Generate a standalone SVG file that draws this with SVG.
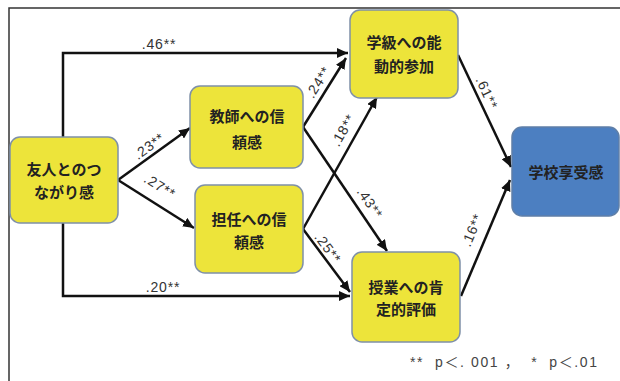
<svg xmlns="http://www.w3.org/2000/svg" width="620" height="381" viewBox="0 0 620 381">
<defs>
<marker id="arr" markerUnits="userSpaceOnUse" markerWidth="12" markerHeight="10" refX="11" refY="5" orient="auto">
<path d="M0,0 L11,5 L0,10 Z" fill="#111"/>
</marker>
<style>
.node{fill:#ede43a;stroke:#7f90a8;stroke-width:1.5}
.blue{fill:#4c7fc1;stroke:#5f7fa8;stroke-width:1.5}
.nt{font-family:"Noto Sans CJK JP","Noto Sans CJK SC",sans-serif;font-weight:bold;font-size:15px;fill:#222;text-anchor:middle}
.edge{fill:none;stroke:#111;stroke-width:2.5;marker-end:url(#arr)}
.lb{font-family:"Liberation Sans",Arial,sans-serif;font-size:14px;letter-spacing:0.8px;fill:#333;text-anchor:middle}
.fn{font-family:"Liberation Sans","Noto Sans CJK JP",sans-serif;font-size:14px;fill:#444}
</style>
</defs>
<rect width="620" height="381" fill="#fff"/>
<path d="M9,381 V8 H620" fill="none" stroke="#333" stroke-width="1.5"/>
<g id="connectors">
<path class="edge" d="M63,137 V53 H348"/>
<path class="edge" d="M63,223 V296 H350"/>
<path class="edge" d="M118,180 L190,128"/>
<path class="edge" d="M118,180 L194,228"/>
<path class="edge" d="M303,127 L346,58"/>
<path class="edge" d="M303,127 L387,251"/>
<path class="edge" d="M303,229 L377,97"/>
<path class="edge" d="M303,229 L350,292"/>
<path class="edge" d="M458,55 L511,167"/>
<path class="edge" d="M461,296 L510,180"/>
<text class="lb" x="159" y="49">.46**</text>
<text class="lb" x="163" y="292">.20**</text>
<text class="lb" x="149" y="151" transform="rotate(-36 149 146)">.23**</text>
<text class="lb" x="160" y="191" transform="rotate(32 160 186)">.27**</text>
<text class="lb" x="318" y="87" transform="rotate(-58 318 82)">.24**</text>
<text class="lb" x="343" y="135" transform="rotate(-60 343 130)">.18**</text>
<text class="lb" x="370" y="208" transform="rotate(56 370 203)">.43**</text>
<text class="lb" x="328" y="253" transform="rotate(53 328 248)">.25**</text>
<text class="lb" x="487" y="98" transform="rotate(65 487 93)">.61**</text>
<text class="lb" x="472" y="235" transform="rotate(-67 472 230)">.16**</text>
</g>
<g id="n1"><rect class="node" x="10" y="137" width="108" height="86" rx="10"/>
<text class="nt" x="64" y="175">友人とのつ</text><text class="nt" x="64" y="198">ながり感</text></g>
<g id="n2"><rect class="node" x="190" y="86" width="113" height="82" rx="10"/>
<text class="nt" x="247" y="122">教師への信</text><text class="nt" x="247" y="148">頼感</text></g>
<g id="n3"><rect class="node" x="195" y="185" width="108" height="88" rx="10"/>
<text class="nt" x="249" y="225">担任への信</text><text class="nt" x="249" y="248">頼感</text></g>
<g id="n4"><rect class="node" x="350" y="10" width="108" height="88" rx="10"/>
<text class="nt" x="404" y="48">学級への能</text><text class="nt" x="404" y="72">動的参加</text></g>
<g id="n5"><rect class="node" x="352" y="252" width="108" height="90" rx="10"/>
<text class="nt" x="406" y="293">授業への肯</text><text class="nt" x="406" y="315">定的評価</text></g>
<g id="n6"><rect class="blue" x="512" y="127" width="107" height="89" rx="10"/>
<text class="nt" x="566" y="178">学校享受感</text></g>
<text class="fn" x="410" y="367" textLength="187" lengthAdjust="spacing" xml:space="preserve">**  p＜. 001 ，  *  p＜.01</text>
</svg>
